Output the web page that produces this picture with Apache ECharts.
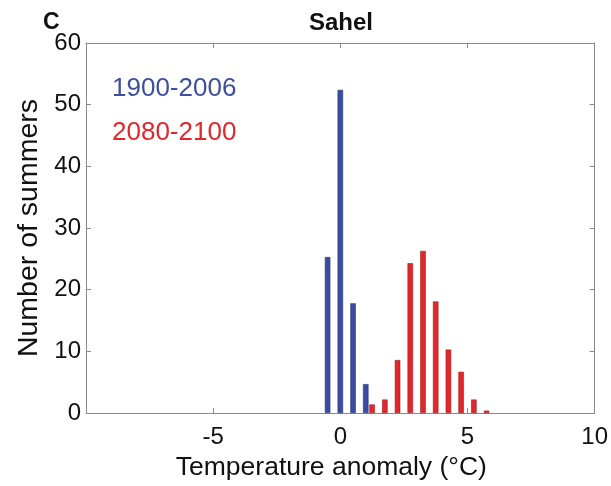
<!DOCTYPE html>
<html>
<head>
<meta charset="utf-8">
<script src="https://cdn.jsdelivr.net/npm/echarts@6/dist/echarts.min.js"></script>
<style>html,body{margin:0;padding:0;background:#fff}#c{width:611px;height:486px}</style>
</head>
<body>
<div id="c"></div>
<script>
// Bin centres (°C) and counts
const pastBins = [-0.5, 0, 0.5, 1.0];
const pastCounts = [25.3, 52.4, 17.8, 4.7];
const futureBins = [1.25, 1.75, 2.25, 2.75, 3.25, 3.75, 4.25, 4.75, 5.25, 5.75];
const futureCounts = [1.4, 2.2, 8.6, 24.3, 26.3, 18.1, 10.3, 6.7, 2.2, 0.4];
const xTicks = [-10, -5, 0, 5, 10];
const yTicks = [0, 10, 20, 30, 40, 50, 60];
const seriesNames = ['1900-2006', '2080-2100'];

const FONT = '"Liberation Sans", Arial, Helvetica, sans-serif';
const AX = '#8a8a8a';
const chart = echarts.init(document.getElementById('c'));

const pastData = pastBins.map((x, i) => [x, pastCounts[i]]);
const futureData = futureBins.map((x, i) => [x, futureCounts[i]]);

const boxAxis = {
  axisLine: { show: true, onZero: false, lineStyle: { color: AX } },
  axisTick: { show: true, inside: true, length: 5, lineStyle: { color: AX } },
  splitLine: { show: false }
};

chart.setOption({
  animation: false,
  backgroundColor: '#fff',
  textStyle: { fontFamily: FONT },
  title: [
    { text: 'Sahel', left: 336, top: 6, textAlign: 'center',
      textStyle: { fontFamily: FONT, fontSize: 24, fontWeight: 'bold', color: '#111' } },
    { text: 'C', left: 38, top: 6,
      textStyle: { fontFamily: FONT, fontSize: 23, fontWeight: 'bold', color: '#111' } }
  ],
  legend: {
    orient: 'vertical', left: 102, top: 71, itemGap: 18,
    icon: 'none', itemWidth: 0, itemHeight: 0,
    selectedMode: false,
    data: [
      { name: seriesNames[0], textStyle: { color: '#3e4fa0' } },
      { name: seriesNames[1], textStyle: { color: '#e3262b' } }
    ],
    textStyle: { fontFamily: FONT, fontSize: 26, padding: 0 }
  },
  grid: { left: 86, right: 13, top: 43, bottom: 68, show: false, containLabel: false },
  xAxis: [
    Object.assign({ type: 'value', min: xTicks[0], max: xTicks[xTicks.length - 1], interval: 5,
      name: 'Temperature anomaly (°C)', nameLocation: 'middle', nameGap: 39,
      nameTextStyle: { fontFamily: FONT, fontSize: 26.5, color: '#111', padding: [0, 18, 0, 0] },
      axisLabel: { fontFamily: FONT, fontSize: 24, color: '#111', margin: 12,
        formatter: v => (v === xTicks[0] ? '' : String(v)) } }, boxAxis),
    Object.assign({ type: 'value', position: 'top', min: xTicks[0], max: xTicks[xTicks.length - 1], interval: 5,
      axisLabel: { show: false } }, boxAxis)
  ],
  yAxis: [
    Object.assign({ type: 'value', min: yTicks[0], max: yTicks[yTicks.length - 1], interval: 10,
      name: 'Number of summers', nameLocation: 'middle', nameGap: 38, nameRotate: 90,
      nameTextStyle: { fontFamily: FONT, fontSize: 28.5, color: '#111', padding: [0, 0, 0, 0] },
      axisLabel: { fontFamily: FONT, fontSize: 24, color: '#111', margin: 5 } }, boxAxis),
    Object.assign({ type: 'value', position: 'right', min: yTicks[0], max: yTicks[yTicks.length - 1], interval: 10,
      axisLabel: { show: false } }, boxAxis)
  ],
  series: [
    { name: seriesNames[0], type: 'bar', data: pastData, barWidth: 5.5, barGap: '-100%',
      itemStyle: { color: '#3b4b9f', borderColor: '#2a3580', borderWidth: 0.6 } },
    { name: seriesNames[1], type: 'bar', data: futureData, barWidth: 5.5, barGap: '-100%',
      itemStyle: { color: '#e3262b', borderColor: '#9a1f22', borderWidth: 0.6 } }
  ]
});
</script>
</body>
</html>
